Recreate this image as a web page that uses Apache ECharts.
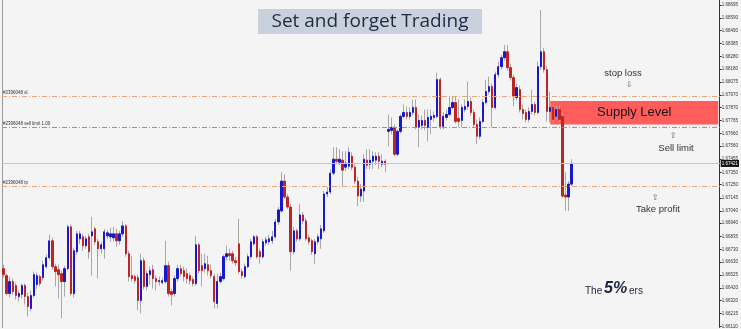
<!DOCTYPE html>
<html><head><meta charset="utf-8">
<script src="https://cdn.jsdelivr.net/npm/echarts@6/dist/echarts.min.js"></script>
<style>html,body{margin:0;padding:0;background:#f4f4f4}#c{width:741px;height:329px}</style>
</head><body><div id="c"></div>
<script>
const opens=[1.66575,1.66519,1.66375,1.66471,1.66439,1.66351,1.66367,1.66439,1.66351,1.66255,1.66359,1.66447,1.66511,1.66503,1.66591,1.66663,1.66799,1.66591,1.66567,1.66535,1.66471,1.66575,1.66911,1.66375,1.66711,1.66815,1.66831,1.66759,1.66831,1.66839,1.66895,1.66791,1.66735,1.66735,1.66839,1.66831,1.66823,1.66855,1.66799,1.66855,1.66919,1.66695,1.66519,1.66511,1.66503,1.66319,1.66639,1.66431,1.66527,1.66567,1.66495,1.66471,1.66463,1.66471,1.66599,1.66391,1.66375,1.66495,1.66575,1.66559,1.66535,1.66519,1.66487,1.66455,1.66767,1.66599,1.66575,1.66607,1.66559,1.66511,1.66295,1.66471,1.66495,1.66671,1.66695,1.66695,1.66639,1.66775,1.66551,1.66511,1.66591,1.66671,1.66775,1.66831,1.66711,1.66671,1.66783,1.66791,1.66799,1.66831,1.66951,1.67039,1.67279,1.67151,1.67071,1.66711,1.66879,1.66815,1.67007,1.66959,1.66823,1.66799,1.66695,1.66791,1.66815,1.66879,1.67175,1.67191,1.67343,1.67455,1.67431,1.67447,1.67391,1.67399,1.67479,1.67391,1.67279,1.67159,1.67199,1.67447,1.67415,1.67439,1.67447,1.67479,1.67415,1.67439,1.67679,1.67687,1.67711,1.67495,1.67679,1.67799,1.67831,1.67799,1.67831,1.67871,1.67711,1.67727,1.67767,1.67711,1.67775,1.67791,1.67799,1.68095,1.67719,1.67791,1.67815,1.67871,1.67911,1.67783,1.67767,1.67855,1.67879,1.67919,1.67831,1.67735,1.67639,1.67759,1.67911,1.67999,1.68039,1.67871,1.68135,1.68199,1.68271,1.68319,1.68191,1.68111,1.67951,1.68015,1.67855,1.67831,1.67775,1.67839,1.67895,1.67831,1.68199,1.68319,1.68175,1.67839,1.67871,1.67799,1.67855,1.67799,1.67167,1.67151,1.67255];
const closes=[1.66527,1.66375,1.66471,1.66391,1.66359,1.66375,1.66439,1.66351,1.66271,1.66359,1.66527,1.66519,1.66455,1.66607,1.66663,1.66799,1.66591,1.66551,1.66527,1.66471,1.66575,1.66911,1.66375,1.66719,1.66855,1.66855,1.66759,1.66815,1.66711,1.66871,1.66791,1.66735,1.66767,1.66871,1.66863,1.66855,1.66855,1.66799,1.66855,1.66919,1.66695,1.66511,1.66495,1.66479,1.66319,1.66639,1.66431,1.66535,1.66559,1.66495,1.66471,1.66479,1.66479,1.66599,1.66375,1.66367,1.66495,1.66575,1.66535,1.66511,1.66495,1.66479,1.66455,1.66767,1.66559,1.66559,1.66615,1.66559,1.66519,1.66311,1.66471,1.66511,1.66671,1.66695,1.66679,1.66639,1.66623,1.66551,1.66519,1.66591,1.66671,1.66791,1.66831,1.66671,1.66671,1.66791,1.66807,1.66815,1.66831,1.66951,1.67047,1.67279,1.67151,1.67071,1.66711,1.66879,1.66815,1.67007,1.66959,1.66815,1.66791,1.66711,1.66791,1.66831,1.66895,1.67175,1.67191,1.67343,1.67455,1.67439,1.67455,1.67367,1.67423,1.67511,1.67391,1.67279,1.67159,1.67215,1.67455,1.67407,1.67447,1.67479,1.67479,1.67439,1.67439,1.67415,1.67695,1.67711,1.67495,1.67679,1.67799,1.67831,1.67799,1.67831,1.67871,1.67711,1.67767,1.67767,1.67727,1.67791,1.67799,1.67807,1.68095,1.67719,1.67799,1.67815,1.67871,1.67911,1.67759,1.67759,1.67871,1.67879,1.67919,1.67831,1.67735,1.67639,1.67759,1.67911,1.67999,1.68039,1.67871,1.68135,1.68199,1.68271,1.68319,1.68191,1.68111,1.67959,1.68031,1.67855,1.67823,1.67775,1.67839,1.67895,1.67831,1.68199,1.68319,1.68175,1.67839,1.67871,1.67775,1.67855,1.67775,1.67159,1.67151,1.67255,1.67421];
const lows=[1.66503,1.66359,1.66343,1.66367,1.66327,1.66311,1.66335,1.66287,1.66191,1.66231,1.66343,1.66415,1.66431,1.66479,1.66575,1.66647,1.66567,1.66431,1.66335,1.66175,1.66351,1.66559,1.66359,1.66343,1.66687,1.66775,1.66719,1.66735,1.66655,1.66519,1.66767,1.66495,1.66695,1.66655,1.66815,1.66791,1.66791,1.66751,1.66767,1.66831,1.66671,1.66471,1.66471,1.66455,1.66239,1.66215,1.66407,1.66399,1.66447,1.66415,1.66399,1.66439,1.66447,1.66455,1.66351,1.66279,1.66351,1.66471,1.66511,1.66471,1.66455,1.66447,1.66431,1.66439,1.66535,1.66431,1.66543,1.66519,1.66495,1.66255,1.66255,1.66455,1.66479,1.66639,1.66639,1.66615,1.66599,1.66535,1.66495,1.66495,1.66575,1.66655,1.66759,1.66655,1.66615,1.66655,1.66759,1.66767,1.66775,1.66815,1.66927,1.67023,1.67135,1.67055,1.66559,1.66687,1.66791,1.66799,1.66935,1.66799,1.66767,1.66687,1.66615,1.66767,1.66735,1.66863,1.67151,1.67175,1.67327,1.67415,1.67407,1.67239,1.67359,1.67375,1.67367,1.67255,1.67079,1.67111,1.67111,1.67375,1.67375,1.67375,1.67407,1.67375,1.67391,1.67351,1.67559,1.67655,1.67479,1.67479,1.67663,1.67783,1.67775,1.67775,1.67807,1.67695,1.67551,1.67695,1.67687,1.67599,1.67655,1.67759,1.67783,1.67695,1.67695,1.67767,1.67799,1.67855,1.67743,1.67711,1.67711,1.67831,1.67855,1.67807,1.67711,1.67575,1.67615,1.67743,1.67895,1.67975,1.67711,1.67855,1.68111,1.68175,1.68247,1.68167,1.68087,1.67879,1.67927,1.67831,1.67775,1.67751,1.67751,1.67815,1.67807,1.67815,1.68175,1.68151,1.67759,1.67751,1.67751,1.67775,1.67751,1.67143,1.67039,1.67039,1.67239];
const highs=[1.66607,1.66535,1.66511,1.66495,1.66463,1.66399,1.66455,1.66455,1.66383,1.66399,1.66551,1.66543,1.66527,1.66639,1.66687,1.66847,1.66823,1.66615,1.66607,1.66559,1.66599,1.66927,1.66927,1.66743,1.66879,1.66879,1.66855,1.66839,1.66855,1.66991,1.66911,1.66815,1.66791,1.66895,1.66887,1.66903,1.66911,1.66895,1.66879,1.66959,1.66935,1.66719,1.66679,1.66527,1.66527,1.66695,1.66663,1.66559,1.66591,1.66607,1.66519,1.66511,1.66503,1.66799,1.66631,1.66415,1.66519,1.66607,1.66607,1.66591,1.66575,1.66543,1.66511,1.66839,1.66783,1.66695,1.66695,1.66679,1.66607,1.66535,1.66535,1.66543,1.66687,1.66759,1.66735,1.66719,1.66671,1.66975,1.66575,1.66615,1.66695,1.66815,1.66847,1.66847,1.66735,1.66815,1.66831,1.66847,1.66879,1.66975,1.67071,1.67351,1.67335,1.67175,1.67095,1.66911,1.66895,1.67095,1.67031,1.66983,1.66847,1.66815,1.66815,1.66855,1.66927,1.67199,1.67231,1.67375,1.67551,1.67551,1.67535,1.67519,1.67519,1.67551,1.67511,1.67415,1.67311,1.67255,1.67495,1.67535,1.67535,1.67519,1.67511,1.67511,1.67495,1.67455,1.67815,1.67791,1.67735,1.67695,1.67815,1.67895,1.67879,1.67871,1.67935,1.67935,1.67815,1.67807,1.67855,1.67855,1.67855,1.67839,1.68151,1.68111,1.67831,1.67855,1.67959,1.67959,1.67959,1.67935,1.67895,1.67935,1.68079,1.67951,1.67855,1.67775,1.67791,1.67935,1.68095,1.68119,1.68063,1.68159,1.68239,1.68295,1.68375,1.68375,1.68223,1.68135,1.68063,1.68047,1.67895,1.67855,1.67871,1.68015,1.67919,1.68239,1.68655,1.68351,1.68207,1.67999,1.67903,1.67887,1.67887,1.67823,1.67351,1.67279,1.67455];
const yTicks=[1.68695,1.68590,1.68490,1.68385,1.68280,1.68180,1.68075,1.67970,1.67870,1.67765,1.67660,1.67560,1.67455,1.67350,1.67250,1.67145,1.67040,1.66940,1.66835,1.66730,1.66630,1.66525,1.66420,1.66320,1.66215,1.66110];
const slPrice=1.67959, sellLimitPrice=1.67711, tpPrice=1.67239, lastPrice=1.67421;
const supplyTop=1.67923, supplyBottom=1.67735;
const slotCount=235;
const xCats=[]; for(let i=0;i<slotCount;i++) xCats.push(String(i));

const wickData=opens.map((o,i)=>[o,closes[i],lows[i],highs[i]]);
const bodyData=opens.map((o,i)=>[o,closes[i],Math.min(o,closes[i]),Math.max(o,closes[i])]);

const dash=[5,2,1,2];
const smallLbl={fontSize:4.5,color:'#333',fontFamily:'Liberation Sans'};
const chart=echarts.init(document.getElementById('c'),null,{renderer:'canvas'});
chart.setOption({
  animation:false,
  backgroundColor:'#f4f4f4',
  textStyle:{fontFamily:'Liberation Sans, Arial'},
  grid:{left:2,right:17,top:0,bottom:0},
  xAxis:{type:'category',data:xCats,show:false},
  yAxis:[
    {type:'value',position:'right',min:1.66103,max:1.68735,
     axisLine:{show:true,lineStyle:{color:'#333',width:1}},
     axisTick:{show:true,length:2,lineStyle:{color:'#333'},customValues:yTicks},
     splitLine:{show:false},
     axisLabel:{show:true,customValues:yTicks,fontSize:4.5,margin:2,color:'#333',fontFamily:'Liberation Sans',formatter:v=>v.toFixed(5)}},
    {type:'value',position:'left',min:1.66103,max:1.68735,
     axisLine:{show:true,lineStyle:{color:'#9a9a9a',width:1}},
     axisTick:{show:false},axisLabel:{show:false},splitLine:{show:false}}
  ],
  series:[
    {type:'line',name:'levels',data:[],yAxisIndex:0,
     markArea:{silent:true,itemStyle:{color:'#ff5c5c'},
       label:{show:true,position:'inside',color:'#151515',fontSize:13,fontFamily:'Liberation Sans'},
       data:[[{name:'Supply Level',xAxis:'179',yAxis:supplyTop},{xAxis:String(slotCount-1),yAxis:supplyBottom}]]},
     markLine:{silent:true,symbol:'none',animation:false,precision:5,
       data:[
        {yAxis:slPrice,lineStyle:{color:'#e9a57f',type:dash,width:1},label:Object.assign({show:true,position:'insideStartTop',formatter:'#2396048 sl',distance:1},smallLbl)},
        {yAxis:sellLimitPrice,lineStyle:{color:'#5cc05c',type:dash,width:1},label:Object.assign({show:true,position:'insideStartTop',formatter:'#2396048 sell limit 1.00',distance:1},smallLbl)},
        {yAxis:lastPrice,lineStyle:{color:'#c6c6c6',type:'solid',width:1},label:{show:true,position:'end',formatter:'1.67421',color:'#fff',backgroundColor:'#111',fontSize:4.5,padding:[1,1],distance:1}},
        {yAxis:tpPrice,lineStyle:{color:'#e9a57f',type:dash,width:1},label:Object.assign({show:true,position:'insideStartTop',formatter:'#2396048 tp',distance:1},smallLbl)}
       ]}},
    {type:'candlestick',name:'wick',data:wickData,barWidth:1,
     itemStyle:{color:'#a8a8a8',color0:'#a8a8a8',borderColor:'#a8a8a8',borderColor0:'#a8a8a8',borderColorDoji:'#a8a8a8',borderWidth:1}},
    {type:'candlestick',name:'body',data:bodyData,barWidth:1.8,
     itemStyle:{color:'#1818cc',color0:'#bf2424',borderColor:'#1818cc',borderColor0:'#bf2424',borderWidth:1}}
  ],
  graphic:[
    {type:'rect',left:258,top:9,shape:{width:224,height:25},style:{fill:'#c9d1dc'}},
    {type:'text',x:370,y:22,style:{text:'Set and forget Trading',fontSize:19,fontFamily:'Open Sans',fill:'#1e2a45',align:'center',verticalAlign:'middle'}},
    {type:'text',x:623,y:73,style:{text:'stop loss',fontSize:9.5,fontFamily:'Liberation Sans',fill:'#333',align:'center',verticalAlign:'middle'}},
    {type:'text',x:629,y:85,style:{text:'⇩',fontSize:8,fontFamily:'DejaVu Sans',fill:'#666',align:'center',verticalAlign:'middle'}},
    {type:'text',x:673,y:136,style:{text:'⇧',fontSize:8,fontFamily:'DejaVu Sans',fill:'#666',align:'center',verticalAlign:'middle'}},
    {type:'text',x:676,y:148,style:{text:'Sell limit',fontSize:9.5,fontFamily:'Liberation Sans',fill:'#333',align:'center',verticalAlign:'middle'}},
    {type:'text',x:655,y:198,style:{text:'⇧',fontSize:8,fontFamily:'DejaVu Sans',fill:'#666',align:'center',verticalAlign:'middle'}},
    {type:'text',x:658,y:209,style:{text:'Take profit',fontSize:9.5,fontFamily:'Liberation Sans',fill:'#333',align:'center',verticalAlign:'middle'}},
    {type:'text',x:585,y:296,style:{text:'The',fontSize:10,fontFamily:'Liberation Sans',fill:'#1c2342',align:'left',verticalAlign:'bottom'}},
    {type:'text',x:604,y:297,style:{text:'5%',fontSize:16,fontWeight:'bold',fontStyle:'italic',fontFamily:'Liberation Sans',fill:'#1c2342',align:'left',verticalAlign:'bottom'}},
    {type:'text',x:629,y:296,style:{text:'ers',fontSize:10,fontFamily:'Liberation Sans',fill:'#1c2342',align:'left',verticalAlign:'bottom'}}
  ]
});
</script>
</body></html>
